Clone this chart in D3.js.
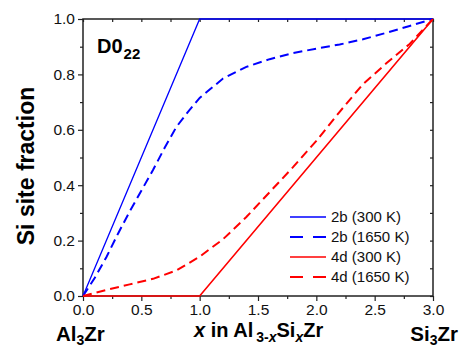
<!DOCTYPE html>
<html><head><meta charset="utf-8">
<script src="https://cdn.jsdelivr.net/npm/d3@7"></script>
<style>body{margin:0;background:#fff}svg{display:block}text{font-family:"Liberation Sans",Arial,sans-serif}</style>
</head><body><svg id="c" width="460" height="348"></svg>
<script>
const xTicks = [0, 0.5, 1.0, 1.5, 2.0, 2.5, 3.0];
const yTicks = [0, 0.2, 0.4, 0.6, 0.8, 1.0];
const seriesNames = ["2b (300 K)", "2b (1650 K)", "4d (300 K)", "4d (1650 K)"];
const s2b300x = [0, 1, 3];
const s2b300y = [0, 1, 1];
const s2b1650x = [0,0.1,0.2,0.3,0.4,0.5,0.6,0.7,0.8,0.9,1.0,1.2,1.4,1.6,1.8,2.0,2.2,2.4,2.6,2.8,3.0];
const s2b1650y = [0,0.065,0.14,0.225,0.305,0.38,0.455,0.535,0.61,0.665,0.715,0.785,0.827,0.855,0.877,0.893,0.908,0.927,0.95,0.975,1.0];
const s4d300x = [0, 1, 3];
const s4d300y = [0, 0, 1];
const s4d1650x = [0,0.2,0.4,0.6,0.8,1.0,1.2,1.4,1.6,1.8,2.0,2.2,2.4,2.6,2.8,3.0];
const s4d1650y = [0,0.022,0.042,0.062,0.092,0.142,0.205,0.285,0.375,0.465,0.56,0.665,0.765,0.84,0.91,1.0];

const svg = d3.select("#c");
const L=83, R=433, T=19, B=296;
const x = d3.scaleLinear().domain([0,3]).range([L,R]);
const y = d3.scaleLinear().domain([0,1]).range([B,T]);

const series = [
  {name:seriesNames[0], xs:s2b300x, ys:s2b300y, color:"#0000ff", dash:null, w:1.3},
  {name:seriesNames[1], xs:s2b1650x, ys:s2b1650y, color:"#0000ff", dash:"9,5", w:2},
  {name:seriesNames[2], xs:s4d300x, ys:s4d300y, color:"#ff0000", dash:null, w:1.6},
  {name:seriesNames[3], xs:s4d1650x, ys:s4d1650y, color:"#ff0000", dash:"9,5", w:2}
];

// axes
const col="#222";
const gx = svg.append("g").attr("transform",`translate(0,${B})`)
  .call(d3.axisBottom(x).tickValues(xTicks).tickFormat(d3.format(".1f")).tickSize(5).tickPadding(3));
const gxm = svg.append("g").attr("transform",`translate(0,${B})`)
  .call(d3.axisBottom(x).tickValues(d3.range(0.25,3,0.5)).tickFormat("").tickSize(3));
const gy = svg.append("g").attr("transform",`translate(${L},0)`)
  .call(d3.axisLeft(y).tickValues(yTicks).tickFormat(d3.format(".1f")).tickSize(5).tickPadding(3));
const gym = svg.append("g").attr("transform",`translate(${L},0)`)
  .call(d3.axisLeft(y).tickValues(d3.range(0.1,1,0.2)).tickFormat("").tickSize(3));
const gt = svg.append("g").attr("transform",`translate(0,${T})`)
  .call(d3.axisTop(x).tickValues(d3.range(0,3.01,0.25)).tickFormat("").tickSize(-3));
const gr = svg.append("g").attr("transform",`translate(${R},0)`)
  .call(d3.axisRight(y).tickValues(d3.range(0,1.01,0.1)).tickFormat("").tickSize(-3));
[gx,gxm,gy,gym,gt,gr].forEach(g=>{
  g.select(".domain").remove();
  g.selectAll("line").attr("stroke",col).attr("stroke-width",1.2);
  g.selectAll("text").attr("font-size",15.5).attr("fill","#111").attr("font-family","Liberation Sans, Arial, sans-serif");
});
svg.append("rect").attr("x",L).attr("y",T).attr("width",R-L).attr("height",B-T)
  .attr("fill","none").attr("stroke",col).attr("stroke-width",1.5);

// lines
const line = d3.line().x(d=>x(d[0])).y(d=>y(d[1]));
series.forEach(s=>{
  svg.append("path").datum(s.xs.map((v,i)=>[v,s.ys[i]]))
    .attr("d",line).attr("fill","none").attr("stroke",s.color)
    .attr("stroke-width",s.w).attr("stroke-dasharray",s.dash);
});

// legend
const lg = svg.append("g");
series.forEach((s,i)=>{
  const yy = 217 + i*20;
  lg.append("line").attr("x1",290).attr("x2",326).attr("y1",yy).attr("y2",yy)
    .attr("stroke",s.color).attr("stroke-width",s.dash?2:1.5).attr("stroke-dasharray",s.dash?"13,10":null);
  lg.append("text").attr("x",331).attr("y",yy+5).attr("font-size",15).attr("fill","#111").text(s.name);
});

// title D0_22
const t = svg.append("text").attr("x",97).attr("y",53).attr("font-size",20).attr("font-weight","bold");
t.append("tspan").text("D0");
t.append("tspan").attr("font-size",15).attr("dx",1).attr("dy",6).text("22");

// y axis title
svg.append("text").attr("transform","translate(34,166) rotate(-90)").attr("text-anchor","middle")
  .attr("font-size",23).attr("font-weight","bold").text("Si site fraction");

// x labels
const a = svg.append("text").attr("x",56).attr("y",341).attr("font-size",20.5).attr("font-weight","bold");
a.append("tspan").text("Al");
a.append("tspan").attr("font-size",14).attr("dy",4).text("3");
a.append("tspan").attr("dy",-4).text("Zr");

const m = svg.append("text").attr("x",194).attr("y",337).attr("font-size",20).attr("font-weight","bold");
m.append("tspan").attr("font-style","italic").text("x");
m.append("tspan").text(" in Al");
m.append("tspan").attr("font-size",14).attr("dx",3).attr("dy",5).text("3-");
m.append("tspan").attr("font-size",14).attr("font-style","italic").text("x");
m.append("tspan").attr("dy",-5).text("Si");
m.append("tspan").attr("font-size",14).attr("font-style","italic").attr("dy",5).text("x");
m.append("tspan").attr("dy",-5).text("Zr");

const sz = svg.append("text").attr("x",458).attr("y",341).attr("font-size",20.5).attr("font-weight","bold").attr("text-anchor","end");
sz.append("tspan").text("Si");
sz.append("tspan").attr("font-size",14).attr("dy",4).text("3");
sz.append("tspan").attr("dy",-4).text("Zr");
</script></body></html>
